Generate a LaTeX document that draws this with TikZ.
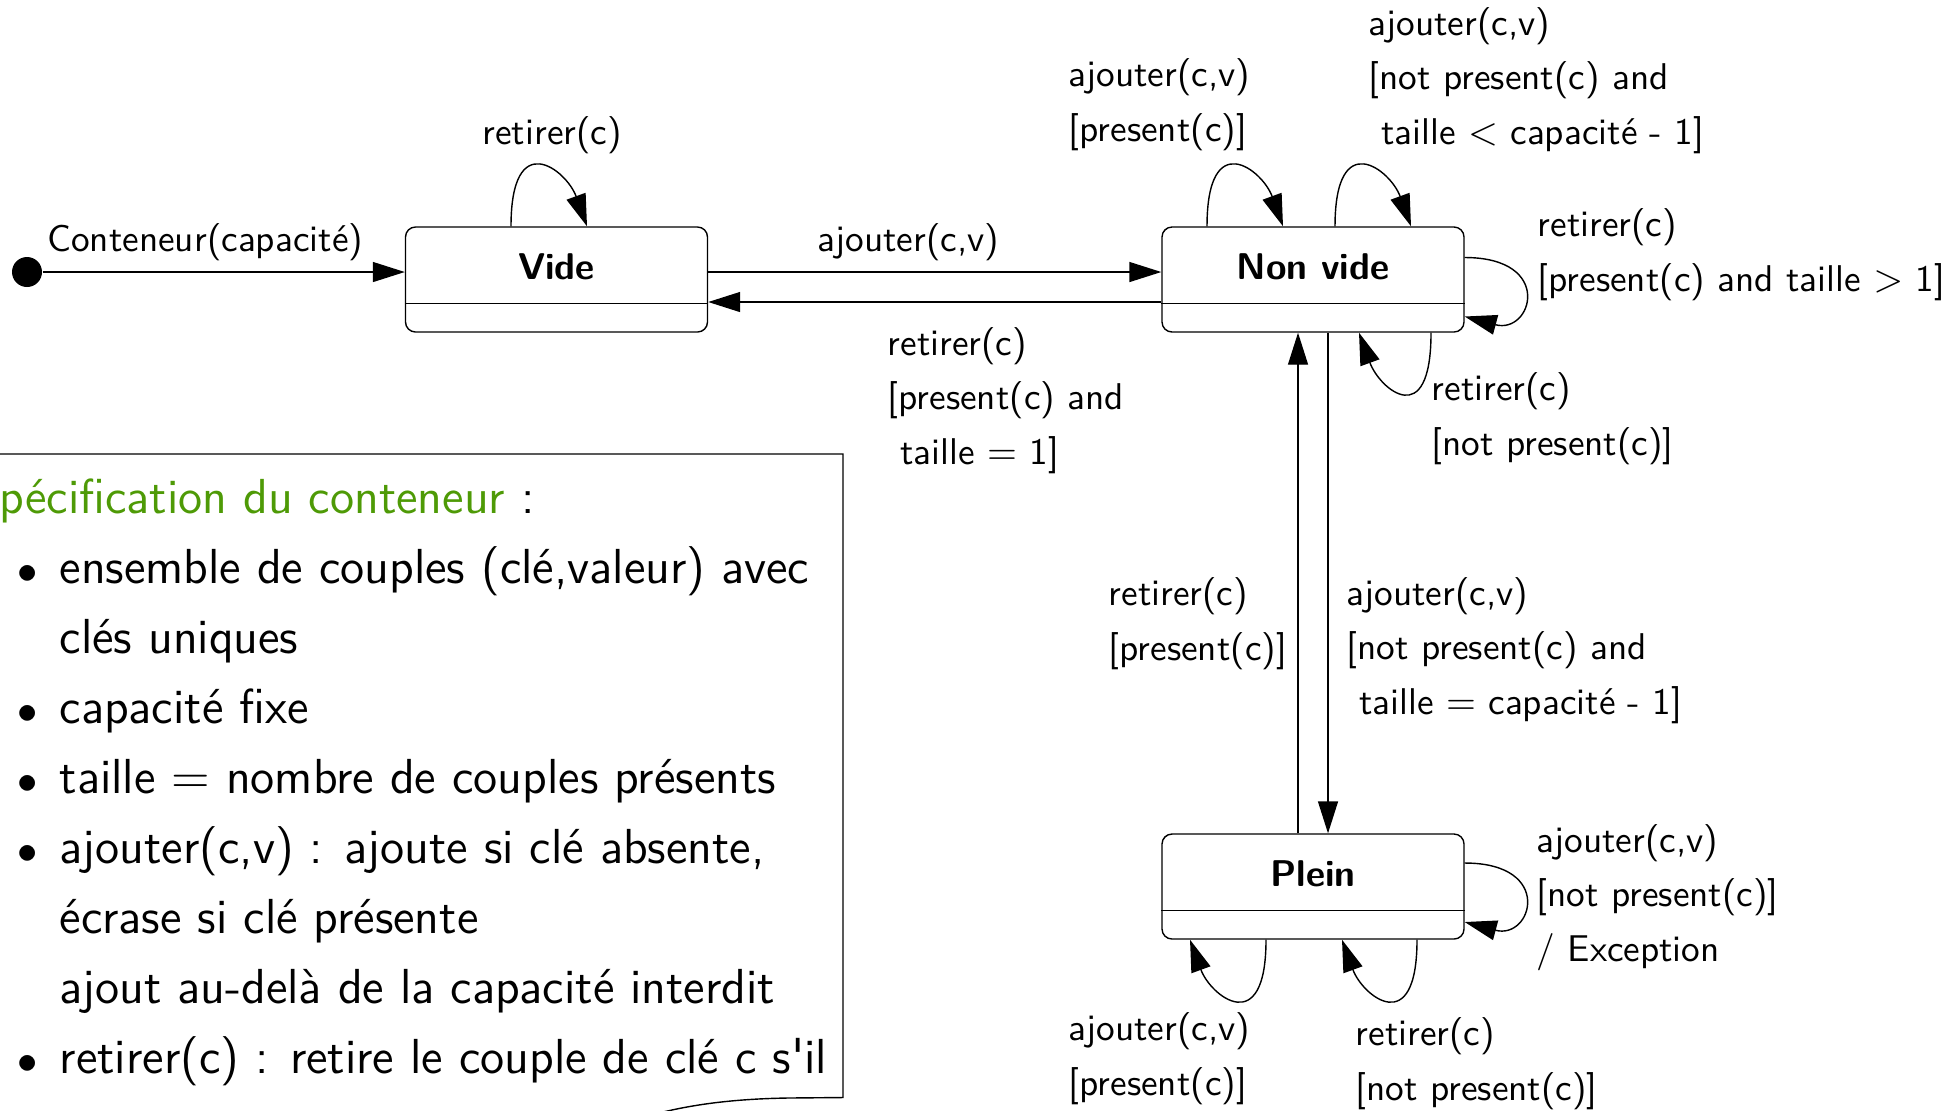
\documentclass[tikz,border=0pt]{standalone}
\usepackage{amsmath}
\usepackage{tikz}
\usetikzlibrary{arrows.meta}
\usetikzlibrary{calc}

\definecolor{specgreen}{RGB}{78,154,6}

\begin{document}
\begin{tikzpicture}
        \useasboundingbox (0,0) rectangle (19.58,-11.10);
        \begin{scope}[->,>={Triangle[length=0.32cm,width=0.2cm]},node distance=7.565cm,
            state node/.style={draw,rounded corners=0.1cm,minimum width=3.02cm,minimum height=1.05cm,inner sep=0pt,
                font=\sffamily\bfseries\fontsize{10.6}{12.7}\selectfont,text height=0.26cm,text depth=0.26cm},
            start dot/.style={circle,fill=black,inner sep=0pt,minimum size=0.3cm},
            lbl/.style={inner sep=0pt,anchor=base west,align=left,font=\sffamily\fontsize{10.6}{15.4}\selectfont},
            selfup/.style={out=90,in=110,out distance=1cm,in distance=0.6cm},
            selfdown/.style={out=-90,in=-70,out distance=1cm,in distance=0.6cm},
            selfright/.style={out=0,in=-15,out distance=0.9cm,in distance=0.7cm}]
        \node[start dot] (init) at (0.27,-2.72) {};
        \node[state node] (vide) at (5.565,-2.795) {Vide};
        \node[state node] (nonvide) [right of=vide] {Non vide};
        \node[state node] (plein) [below of=nonvide, node distance=6.07cm] {Plein};
        \path
        (init) edge node[lbl, above=0.11cm, pos=0.449] {Conteneur(capacité)} (init -| vide.west)
        ([yshift=0.075cm]vide.east) edge node[lbl, above=0.11cm, pos=0.442] {ajouter(c,v)} ([yshift=0.075cm]nonvide.west)
        ([yshift=-0.225cm]nonvide.west) edge ([yshift=-0.225cm]vide.east)
        ([xshift=-0.455cm]vide.north) edge[selfup] ([xshift=0.305cm]vide.north)
        ([xshift=-1.06cm]nonvide.north) edge[selfup] ([xshift=-0.30cm]nonvide.north)
        ([xshift=0.22cm]nonvide.north) edge[selfup] ([xshift=0.98cm]nonvide.north)
        ([yshift=0.22cm]nonvide.east) edge[selfright] ([yshift=-0.37cm]nonvide.east)
        ([xshift=1.18cm]nonvide.south) edge[selfdown] ([xshift=0.46cm]nonvide.south)
        ([xshift=-0.15cm]plein.north) edge ([xshift=-0.15cm]nonvide.south)
        ([xshift=0.15cm]nonvide.south) edge ([xshift=0.15cm]plein.north)
        ([yshift=0.235cm]plein.east) edge[selfright] ([yshift=-0.355cm]plein.east)
        ([xshift=-0.47cm]plein.south) edge[selfdown] ([xshift=-1.23cm]plein.south)
        ([xshift=1.04cm]plein.south) edge[selfdown] ([xshift=0.29cm]plein.south);
        % guards and actions (placed by their last baseline)
        \node[lbl] (rmvide) at (4.82,-1.44) {retirer(c)};
        \node[lbl] (rmlast) at (8.87,-4.64) {retirer(c)\\{[}present(c) and\\\ taille $=$ 1]};
        \node[lbl] (addhit) at (10.68,-1.41) {ajouter(c,v)\\{[}present(c)]};
        \node[lbl] (addnew) at (13.68,-1.44) {ajouter(c,v)\\{[}not present(c) and\\\ taille $<$ capacité - 1]};
        \node[lbl] (rmsome) at (15.37,-2.91) {retirer(c)\\{[}present(c) and taille $>$ 1]};
        \node[lbl] (rmmiss) at (14.31,-4.55) {retirer(c)\\{[}not present(c)]};
        \node[lbl] (rmfull) at (11.08,-6.60) {retirer(c)\\{[}present(c)]};
        \node[lbl] (addlast) at (13.46,-7.14) {ajouter(c,v)\\{[}not present(c) and\\\ taille $=$ capacité - 1]};
        \node[lbl] (addover) at (15.36,-9.61) {ajouter(c,v)\\{[}not present(c)]\\/ Exception};
        \node[lbl] (addfull) at (10.68,-10.95) {ajouter(c,v)\\{[}present(c)]};
        \node[lbl] (rmfullmiss) at (13.55,-11.00) {retirer(c)\\{[}not present(c)]};
        \end{scope}
        \foreach \s in {vide,nonvide,plein}
            \draw ([yshift=0.29cm]\s.south west) -- ([yshift=0.29cm]\s.south east);
        % note
        \newcommand{\specitem}{\hspace*{0.45cm}\makebox[0.42cm][l]{\scalebox{0.8}{$\bullet$}}}
        \draw (-0.6,-4.54) -- (8.43,-4.54) -- (8.43,-10.975) -- (7.87,-10.98) .. controls (7.3,-10.99) and (6.9,-11.05) .. (6.55,-11.14);
        \node[inner sep=0pt,anchor=base west,align=left,font=\sffamily\fontsize{14}{19.9}\selectfont] (spec) at (-0.28,-10.73)
            {\textcolor{specgreen}{Spécification du conteneur} :\\
            \specitem ensemble de couples (clé,valeur) avec\\
            \hspace*{0.87cm}clés uniques\\
            \specitem capacité fixe\\
            \specitem taille $=$ nombre de couples présents\\
            \specitem ajouter(c,v) : ajoute si clé absente,\\
            \hspace*{0.87cm}écrase si clé présente\\
            \hspace*{0.87cm}ajout au-delà de la capacité interdit\\
            \specitem retirer(c) : retire le couple de clé c s\textquotesingle il};
    \end{tikzpicture}
\end{document}
